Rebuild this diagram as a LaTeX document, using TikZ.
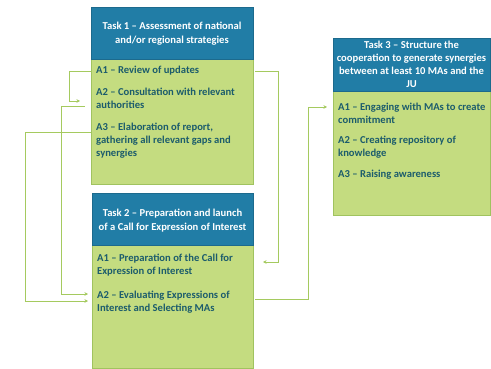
\documentclass[tikz,border=0pt]{standalone}
\usepackage{fontspec}
\setmainfont{Carlito}
\usetikzlibrary{arrows.meta}
\definecolor{hdrblue}{RGB}{33,125,166}
\definecolor{bodygreen}{RGB}{196,220,128}
\definecolor{bordergreen}{RGB}{160,195,95}
\definecolor{txtteal}{RGB}{28,92,108}
\definecolor{linegreen}{RGB}{165,202,95}
\tikzset{
  hdr/.style={fill=hdrblue, draw=hdrblue!85!black, line width=0.4pt},
  bodybox/.style={fill=bodygreen, draw=bordergreen, line width=0.8pt},
  hdrtext/.style={text=white, font=\bfseries\fontsize{10.6}{14}\selectfont, align=center, inner sep=0pt},
  act/.style={text=txtteal, font=\bfseries\fontsize{10.6}{13}\selectfont, align=left, anchor=north west, inner sep=0pt},
  conn/.style={draw=linegreen, line width=0.9pt},
  arr/.style={conn, -{Stealth[length=3.5pt,width=3.5pt]}}
}
\begin{document}
\begin{tikzpicture}[x=1pt,y=-1pt]
\useasboundingbox (0,0) rectangle (491,369);
% Task 1
\path[bodybox] (91,59) rectangle (253,184);
\path[hdr] (91,7) rectangle (253,59);
\node[hdrtext] (t1h) at (172,34) {Task 1 – Assessment of national\\and/or regional strategies};
\node[act] (t1a1) at (96,66) {A1 – Review of updates};
\node[act] (t1a2) at (96,88) {A2 – Consultation with relevant\\authorities};
\node[act] (t1a3) at (96,123) {A3 – Elaboration of report,\\gathering all relevant gaps and\\synergies};
% Task 2
\path[bodybox] (92,245) rectangle (253,368);
\path[hdr] (92,193) rectangle (253,245);
\node[hdrtext] (t2h) at (172.5,220.5) {Task 2 – Preparation and launch\\of a Call for Expression of Interest};
\node[act] (t2a1) at (97,254) {A1 – Preparation of the Call for\\Expression of Interest};
\node[act] (t2a2) at (97,291) {A2 – Evaluating Expressions of\\Interest and Selecting MAs};
% Task 3
\path[bodybox] (333,91) rectangle (490,215);
\path[hdr] (333,38) rectangle (490,91);
\node[hdrtext, font=\bfseries\fontsize{10.6}{13}\selectfont] (t3h) at (411.5,64.5) {Task 3 – Structure the\\cooperation to generate synergies\\between at least 10 MAs and the\\JU};
\node[act] (t3a1) at (338,103) {A1 – Engaging with MAs to create\\commitment};
\node[act] (t3a2) at (338,136) {A2 – Creating repository of\\knowledge};
\node[act] (t3a3) at (338,170) {A3 – Raising awareness};
% connector endpoints
\coordinate (c1s) at (91,71);
\coordinate (c1e) at (80,101);
\coordinate (c2s) at (85,106);
\coordinate (c2e) at (88,294);
\coordinate (c3s) at (91,132);
\coordinate (c3e) at (88,301);
\coordinate (c4s) at (255,71);
\coordinate (c4e) at (263,262);
\coordinate (c5s) at (255,299);
\coordinate (c5e) at (327,107);
% connectors
\draw[arr] (c1s) -- (69,71) -- (69,101) -- (c1e);
\draw[arr] (c2s) -- (61,106) -- (61,294) -- (c2e);
\draw[arr] (c3s) -- (25,132) -- (25,301) -- (c3e);
\draw[arr] (c4s) -- (278,71) -- (278,262) -- (c4e);
\draw[arr] (c5s) -- (308,299) -- (308,107) -- (c5e);
\end{tikzpicture}
\end{document}
